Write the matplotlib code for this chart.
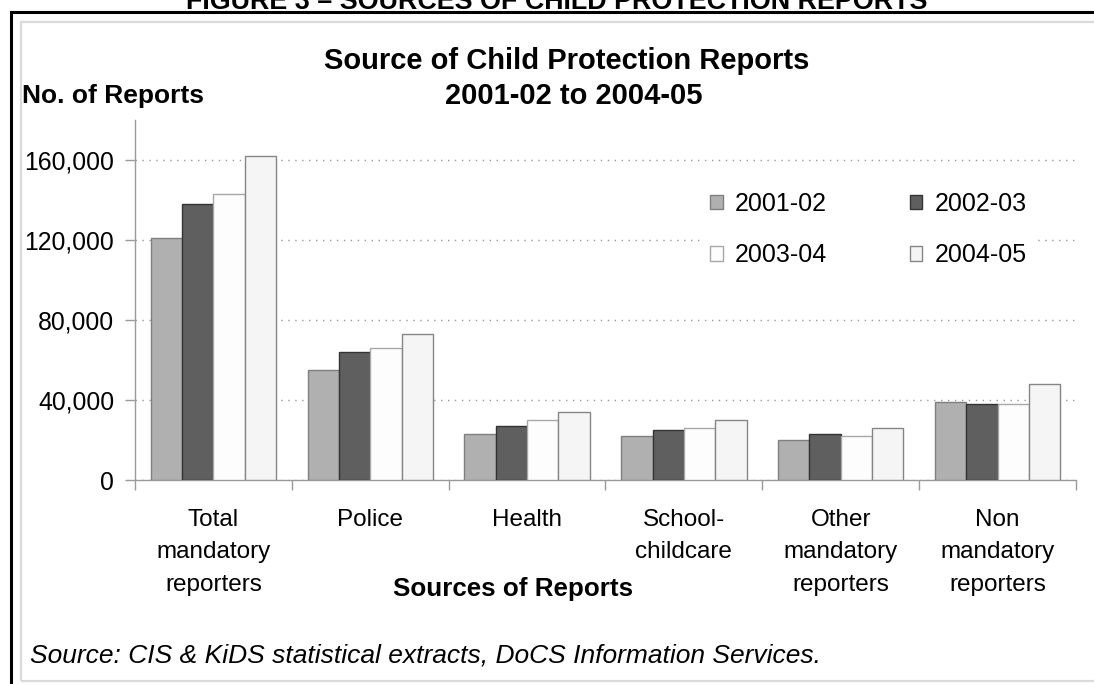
import matplotlib.pyplot as plt
import numpy as np
from matplotlib.patches import Rectangle

plt.rcParams["font.family"] = ["Liberation Sans", "DejaVu Sans"]

CATEGORIES = [
    "Total\nmandatory\nreporters",
    "Police",
    "Health",
    "School-\nchildcare",
    "Other\nmandatory\nreporters",
    "Non\nmandatory\nreporters",
]
YEARS = ["2001-02", "2002-03", "2003-04", "2004-05"]
REPORTS_2001_02 = [121000, 55000, 23000, 22000, 20000, 39000]
REPORTS_2002_03 = [138000, 64000, 27000, 25000, 23000, 38000]
REPORTS_2003_04 = [143000, 66000, 30000, 26000, 22000, 38000]
REPORTS_2004_05 = [162000, 73000, 34000, 30000, 26000, 48000]
Y_TICKS = [0, 40000, 80000, 120000, 160000]

SERIES = [REPORTS_2001_02, REPORTS_2002_03, REPORTS_2003_04, REPORTS_2004_05]
FACES = ["#B0B0B0", "#5F5F5F", "#FDFDFD", "#F5F5F5"]
EDGES = ["#7F7F7F", "#333333", "#A8A8A8", "#858585"]

W, H = 1094, 684
fig = plt.figure(figsize=(W / 100, H / 100), dpi=100)


def fx(px):
    return px / W


def fy(py):
    return 1 - py / H


# page frame and chart-area border, both running off the right edge
fig.add_artist(Rectangle((fx(11), fy(H + 20)), 1.2, fy(12) - fy(H + 20),
                         transform=fig.transFigure, fill=False,
                         edgecolor="black", linewidth=2.2))
fig.add_artist(Rectangle((fx(21), fy(681)), 1.2, fy(22) - fy(681),
                         transform=fig.transFigure, fill=False,
                         edgecolor="#DADADA", linewidth=1.6))

fig.text(fx(557), fy(9), "FIGURE 3 \u2013 SOURCES OF CHILD PROTECTION REPORTS",
         ha="center", va="baseline", fontsize=19.4, weight="bold")

ax = fig.add_axes([fx(135), fy(480), fx(1076) - fx(135), fy(120) - fy(480)])

x = np.arange(len(CATEGORIES))
width = 0.2
handles = []
for i, (vals, year) in enumerate(zip(SERIES, YEARS)):
    bars = ax.bar(x + (i - 1.5) * width, vals, width, color=FACES[i], edgecolor=EDGES[i],
                  linewidth=1.0, label=year, zorder=3)
    handles.append(bars)

ax.set_xlim(-0.5, len(CATEGORIES) - 0.5)
ax.set_ylim(0, 180000)
ax.set_yticks(Y_TICKS)
ax.set_yticklabels([f"{v:,}" for v in Y_TICKS])
ax.yaxis.grid(True, color="#9A9A9A", linestyle=(0, (1, 4)), linewidth=1.0, zorder=0)

ax.set_xticks(x)
ax.set_xticklabels(CATEGORIES, linespacing=1.6)
ax.set_xticks(np.arange(len(CATEGORIES) + 1) - 0.5, minor=True)
ax.tick_params(axis="x", which="major", length=0, pad=21, labelsize=17.5)
ax.tick_params(axis="x", which="minor", length=7, direction="out", color="#9A9A9A", width=1)
ax.tick_params(axis="y", length=7, direction="out", color="#9A9A9A", width=1,
               labelsize=17.8, pad=8)

for side in ("top", "right"):
    ax.spines[side].set_visible(False)
for side in ("left", "bottom"):
    ax.spines[side].set_color("#9A9A9A")
    ax.spines[side].set_linewidth(1.0)

# legend reads across rows: 2001-02, 2002-03 / 2003-04, 2004-05
order = [0, 2, 1, 3]
leg = ax.legend([handles[k] for k in order], [YEARS[k] for k in order], ncol=2,
                loc="upper left", bbox_to_anchor=(fx(690 - 135) / fx(941), 0.856),
                fontsize=18, frameon=True, facecolor="white", edgecolor="white",
                framealpha=1, handlelength=0.5, handleheight=0.5, handletextpad=0.5,
                columnspacing=3.3, labelspacing=1.1, borderpad=0.3, fancybox=False)
leg.get_frame().set_linewidth(0)
leg.set_zorder(4)

fig.text(fx(567), fy(61), "Source of Child Protection Reports", ha="center", va="center",
         fontsize=21, weight="bold")
fig.text(fx(574), fy(96), "2001-02 to 2004-05", ha="center", va="center",
         fontsize=21, weight="bold")
fig.text(fx(22), fy(96), "No. of Reports", ha="left", va="center", fontsize=19, weight="bold")
fig.text(fx(513), fy(589), "Sources of Reports", ha="center", va="center",
         fontsize=18.7, weight="bold")
fig.text(fx(30), fy(655), "Source: CIS & KiDS statistical extracts, DoCS Information Services.",
         ha="left", va="center", fontsize=19, style="italic")

fig.savefig("out.png", dpi=100)
